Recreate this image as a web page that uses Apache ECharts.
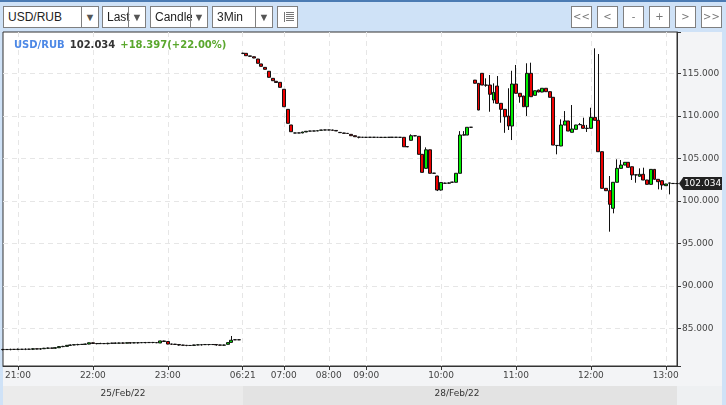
<!DOCTYPE html>
<html>
<head>
<meta charset="utf-8">
<script src="https://cdn.jsdelivr.net/npm/echarts@6/dist/echarts.min.js"></script>
<style>
  body { margin: 0; background: #cfe2f7; }
  #wrap { position: relative; width: 726px; height: 405px; overflow: hidden; }
  #chart { position: absolute; left: 0; top: 0; width: 726px; height: 405px; }
  .dd { position: absolute; top: 6px; height: 22px; box-sizing: border-box; border: 1px solid #7f7f7f;
        background: #fff; font: 12px 'Liberation Sans', Arial, sans-serif; color: #222; z-index: 2; }
  .dd .t { position: absolute; left: 4px; top: 0; line-height: 20px; overflow: hidden; white-space: nowrap; }
  .dd .a { position: absolute; right: 0; top: 0; width: 16px; height: 20px; border-left: 1px solid #7f7f7f;
           text-align: center; line-height: 20px; font-size: 11px; color: #555; }
  .btn { position: absolute; top: 6px; width: 21px; height: 22px; box-sizing: border-box; border: 1px solid #7f7f7f;
         background: #fff; font: 10px 'DejaVu Sans', sans-serif; color: #777; text-align: center; line-height: 20px; z-index: 2; }
  .ico { position: absolute; left: 6px; top: 5px; width: 8px; height: 10px; border-left: 1px solid #777;
         background: repeating-linear-gradient(#777 0, #777 1px, transparent 1px, transparent 2px); background-clip: content-box; padding-left: 1px; }
</style>
</head>
<body>
<div id="wrap">
  <div id="chart"></div>
  <div class="dd" style="left:3px;width:96px"><span class="t" style="width:74px">USD/RUB</span><span class="a">▼</span></div>
  <div class="dd" style="left:102px;width:44px"><span class="t" style="width:23px">Last</span><span class="a">▼</span></div>
  <div class="dd" style="left:150px;width:58px"><span class="t" style="width:37px">Candle</span><span class="a">▼</span></div>
  <div class="dd" style="left:212px;width:61px"><span class="t" style="width:40px">3Min</span><span class="a">▼</span></div>
  <div class="btn" style="left:277px"><span class="ico"></span></div>
  <div class="btn" style="left:571px">&lt;&lt;</div>
  <div class="btn" style="left:597px">&lt;</div>
  <div class="btn" style="left:623px">-</div>
  <div class="btn" style="left:649px">+</div>
  <div class="btn" style="left:675px">&gt;</div>
  <div class="btn" style="left:701px">&gt;&gt;</div>
</div>
<script>
// 3-minute sessions: [day, first candle, number of candles]
const sessions = [
  ['25/Feb/22', '20:48', 64],
  ['28/Feb/22', '06:21', 11],
  ['28/Feb/22', '07:00', 12],
  ['28/Feb/22', '08:00', 10],
  ['28/Feb/22', '09:00', 84]
];
const tickLabels = ['21:00', '22:00', '23:00', '06:21', '07:00', '08:00', '09:00', '10:00', '11:00', '12:00', '13:00'];
const dayLabels = ['25/Feb/22', '28/Feb/22'];

// [open, close, low, high]
const fridayCandles = [
  [82.50,82.52,82.40,82.58],[82.52,82.50,82.47,82.56],[82.50,82.53,82.42,82.60],[82.53,82.52,82.47,82.57],
  [82.52,82.54,82.44,82.62],[82.54,82.53,82.49,82.58],[82.53,82.55,82.44,82.63],[82.55,82.54,82.50,82.59],
  [82.54,82.60,82.45,82.66],[82.60,82.56,82.53,82.63],[82.56,82.60,82.48,82.67],[82.60,82.66,82.58,82.70],
  [82.66,82.68,82.57,82.74],[82.68,82.67,82.64,82.71],[82.67,82.72,82.60,82.78],[82.72,82.85,82.70,82.88],
  [82.85,82.88,82.78,82.94],[82.88,83.00,82.86,83.04],[83.00,83.04,82.92,83.10],[83.04,83.08,83.02,83.12],
  [83.08,83.10,83.00,83.18],[83.10,83.12,83.07,83.15],[83.12,83.15,83.05,83.20],[83.15,83.30,83.12,83.33],
  [83.30,83.22,83.18,83.34],[83.22,83.20,83.12,83.25],[83.20,83.22,83.17,83.30],[83.22,83.20,83.15,83.25],
  [83.20,83.24,83.12,83.30],[83.24,83.26,83.21,83.30],[83.26,83.25,83.17,83.33],[83.25,83.28,83.22,83.32],
  [83.28,83.26,83.18,83.34],[83.26,83.30,83.24,83.34],[83.30,83.28,83.20,83.36],[83.28,83.31,83.26,83.35],
  [83.31,83.30,83.22,83.38],[83.30,83.33,83.28,83.37],[83.33,83.32,83.24,83.40],[83.32,83.34,83.30,83.38],
  [83.34,83.33,83.25,83.40],[83.33,83.30,83.27,83.36],[83.28,83.52,83.26,83.55],[83.52,83.45,83.40,83.56],
  [83.45,83.15,83.12,83.47],[83.15,83.14,83.06,83.18],[83.14,83.10,83.07,83.17],[83.10,83.03,82.95,83.12],
  [83.03,83.01,82.98,83.06],[83.01,82.98,82.90,83.04],[82.98,82.99,82.95,83.03],[82.99,83.05,82.92,83.08],
  [83.05,83.06,83.02,83.10],[83.06,83.08,82.98,83.11],[83.08,83.10,83.05,83.13],[83.10,83.09,83.00,83.15],
  [83.09,83.10,83.05,83.14],[83.10,83.05,82.96,83.12],[83.05,83.02,82.98,83.07],[83.02,83.04,82.94,83.07],
  [83.12,83.32,83.10,83.35],[83.35,83.60,83.33,84.10],[83.65,83.66,83.62,83.70],[83.66,83.65,83.62,83.69]
];
const mondayEarly = [
  [117.35,117.35,117.30,117.42],[117.35,117.07,117.05,117.38],[117.05,117.00,116.97,117.06],[116.95,116.80,116.78,116.98],
  [116.68,116.18,116.15,116.70],[116.10,115.82,115.80,116.12],[115.70,115.47,115.45,115.72],[115.24,114.53,114.50,115.26],
  [114.41,114.13,114.10,114.43],[114.06,113.92,113.90,114.08],[113.94,113.35,113.33,113.96],[113.12,111.07,111.05,113.14],
  [110.76,109.12,109.10,110.78],[108.92,108.13,108.10,108.94],[107.98,107.98,107.96,108.00],[107.98,107.99,107.96,108.01],
  [107.98,108.10,107.96,108.12],[108.10,108.18,108.08,108.20],[108.20,108.21,108.18,108.23],[108.21,108.22,108.19,108.24],
  [108.22,108.25,108.20,108.27],[108.30,108.33,108.28,108.35],[108.33,108.34,108.31,108.36],[108.34,108.33,108.31,108.36],
  [108.33,108.30,108.28,108.35],[108.28,108.22,108.20,108.30],[108.05,108.02,108.00,108.07],[107.98,107.94,107.92,108.00],
  [107.94,107.92,107.90,107.96],[107.82,107.66,107.64,107.84],[107.66,107.54,107.52,107.68],[107.50,107.48,107.35,107.52],
  [107.48,107.47,107.45,107.49],[107.47,107.47,107.45,107.49],[107.47,107.48,107.46,107.50],[107.48,107.47,107.45,107.49],
  [107.47,107.47,107.45,107.49],[107.47,107.46,107.44,107.48],[107.46,107.47,107.45,107.49],[107.47,107.47,107.45,107.49],
  [107.47,107.48,107.46,107.50],[107.48,107.47,107.45,107.49],[107.47,107.47,107.45,107.49]
];
const mondaySession = [
  [107.47,106.36,106.34,107.49],[106.38,106.36,106.30,106.40],[107.12,107.66,107.10,107.82],[107.66,107.64,107.60,107.68],
  [107.59,105.47,105.45,107.61],[105.47,103.35,103.33,105.49],[103.82,106.00,103.80,106.29],[106.00,103.24,103.22,106.02],
  [103.26,103.24,103.20,103.28],[102.92,101.27,101.15,102.94],[101.27,102.16,101.20,102.20],[102.06,102.08,101.98,102.14],
  [102.08,102.10,102.00,102.16],[102.18,102.20,102.12,102.25],[102.18,103.24,102.16,103.26],[103.24,107.74,103.22,108.20],
  [107.74,107.76,107.70,108.20],[107.74,108.65,107.72,108.67],[108.65,108.66,108.62,108.68],[114.20,113.83,113.80,114.22],
  [113.82,110.68,110.66,113.84],[115.00,113.62,113.60,115.02],[113.62,113.60,113.42,114.41],[113.62,112.53,110.48,114.80],
  [111.86,112.76,111.47,113.82],[113.50,111.47,111.45,114.68],[111.47,110.76,109.19,111.49],[110.76,109.89,108.00,110.78],
  [109.98,108.80,108.33,113.24],[108.80,113.74,107.15,115.30],[113.74,112.65,112.63,115.98],[112.65,112.25,111.54,112.67],
  [112.33,111.07,111.05,112.35],[111.07,115.00,109.98,116.18],[115.00,112.25,112.23,116.25],[112.41,112.95,112.39,112.97],
  [113.04,112.80,112.78,113.06],[112.80,113.24,112.78,113.26],[113.24,112.84,112.82,113.26],[112.84,112.18,112.16,112.86],
  [112.18,106.56,106.54,112.20],[106.52,106.50,105.47,106.54],[106.45,108.92,106.43,109.59],[108.92,109.39,108.90,110.56],
  [109.39,108.21,108.19,109.41],[108.06,108.45,108.04,111.27],[108.41,108.92,108.39,108.94],[108.95,108.98,108.93,109.15],
  [108.88,108.53,108.51,109.78],[108.53,108.52,108.10,108.93],[108.53,109.82,108.51,110.95],[109.82,109.47,109.45,117.94],
  [109.47,105.78,105.76,117.27],[105.78,101.47,101.45,105.80],[101.47,101.19,101.17,101.49],[101.19,99.59,96.37,102.92],
  [99.12,102.18,98.53,102.20],[102.18,103.82,102.16,104.88],[103.82,104.21,103.80,104.80],[104.21,104.53,104.19,104.55],
  [104.53,103.94,103.92,104.55],[104.01,103.04,102.45,104.03],[103.06,103.04,102.13,103.08],[102.88,103.12,102.86,103.82],
  [103.12,102.45,102.43,103.90],[102.45,101.94,101.92,102.47],[101.94,103.70,101.92,103.72],[103.70,102.53,102.51,103.72],
  [102.53,102.25,101.35,102.55],[102.37,101.86,101.30,102.39],[101.78,101.98,101.76,102.00],[102.08,102.10,100.76,102.12],
  [102.05,102.03,101.98,102.08],[102.03,102.034,101.99,102.06]
];
const lastPrice = 102.034;
const change = '+18.397(+22.00%)';

// build category times from the sessions
const categories = [];
sessions.forEach(function (s) {
  const p = s[1].split(':');
  let m = (+p[0]) * 60 + (+p[1]);
  for (let i = 0; i < s[2]; i++) {
    const h = Math.floor(m / 60) % 24, mm = m % 60;
    categories.push((h < 10 ? '0' : '') + h + ':' + (mm < 10 ? '0' : '') + mm);
    m += 3;
  }
});
const candles = fridayCandles.concat(mondayEarly, mondaySession);
const showTick = function (idx, val) { return tickLabels.indexOf(val) >= 0; };

const font = 'DejaVu Sans';
const chart = echarts.init(document.getElementById('chart'));
chart.setOption({
  animation: false,
  backgroundColor: '#cfe2f7',
  title: {
    left: 9, top: 31,
    text: '{a|USD/RUB} {b|' + lastPrice.toFixed(3) + '} {c|' + change + '}',
    textStyle: {
      rich: {
        a: { color: '#4d88e6', fontSize: 10, fontWeight: 'bold', fontFamily: font },
        b: { color: '#333', fontSize: 10, fontWeight: 'bold', fontFamily: font },
        c: { color: '#5aa72d', fontSize: 10, fontWeight: 'bold', fontFamily: font }
      }
    }
  },
  graphic: [
    { type: 'rect', shape: { x: 0, y: 0, width: 726, height: 2 }, style: { fill: '#4b7bb3' }, silent: true },
    { type: 'rect', shape: { x: 677, y: 32, width: 45, height: 373 }, style: { fill: '#f3f4f6' }, silent: true },
    { type: 'rect', shape: { x: 3, y: 366, width: 674, height: 20 }, style: { fill: '#f3f4f6' }, silent: true },
    { type: 'rect', shape: { x: 3, y: 386, width: 240, height: 19 }, style: { fill: '#ebebeb' }, silent: true },
    { type: 'rect', shape: { x: 243, y: 386, width: 434, height: 19 }, style: { fill: '#e3e3e3' }, silent: true },
    { type: 'rect', shape: { x: 677, y: 386, width: 45, height: 19 }, style: { fill: '#eef0f2' }, silent: true },
    { type: 'text', x: 123, y: 394, style: { text: dayLabels[0], fill: '#333', font: '9px ' + font, textAlign: 'center', textVerticalAlign: 'middle' }, silent: true },
    { type: 'text', x: 457, y: 394, style: { text: dayLabels[1], fill: '#333', font: '9px ' + font, textAlign: 'center', textVerticalAlign: 'middle' }, silent: true }
  ],
  grid: {
    left: 3, top: 32, width: 674, height: 334,
    show: true, backgroundColor: '#fff', borderColor: '#333', borderWidth: 1
  },
  xAxis: {
    type: 'category',
    data: categories,
    boundaryGap: false,
    axisLine: { lineStyle: { color: '#333' } },
    axisTick: { interval: showTick, length: 4, lineStyle: { color: '#333' } },
    axisLabel: { interval: showTick, color: '#444', fontSize: 9, fontFamily: font, margin: 5 },
    splitLine: { show: true, interval: showTick, lineStyle: { color: '#e6e6e6', type: [5, 4] } }
  },
  yAxis: {
    type: 'value',
    position: 'right',
    min: 80.57,
    max: 119.86,
    splitNumber: 8,
    scale: true,
    axisLine: { show: true, lineStyle: { color: '#333' } },
    axisTick: { show: true, length: 4, lineStyle: { color: '#333' } },
    axisLabel: {
      color: '#444', fontSize: 9, fontFamily: font, margin: 5,
      formatter: function (v) { return Math.abs(v % 5) < 1e-6 ? v.toFixed(3) : ''; }
    },
    splitLine: { show: true, showMinLine: false, showMaxLine: false, lineStyle: { color: '#e6e6e6', type: [5, 4] } }
  },
  series: [{
    type: 'candlestick',
    data: candles,
    barWidth: '90%',
    itemStyle: {
      color: '#00ee00', color0: '#ee0000',
      borderColor: '#111', borderColor0: '#111', borderWidth: 1
    },
    markPoint: {
      silent: true,
      symbol: 'path://M0,6.5L4.5,0L44,0L44,13L4.5,13Z',
      symbolSize: [43, 13],
      symbolKeepAspect: false,
      data: [{
        coord: [categories[categories.length - 1], lastPrice],
        symbolOffset: [23.5, 0],
        itemStyle: { color: '#222' },
        label: { show: true, position: 'inside', offset: [2, 0], formatter: lastPrice.toFixed(3), color: '#fff', fontSize: 9, fontFamily: font }
      }]
    }
  }]
});
</script>
</body>
</html>
